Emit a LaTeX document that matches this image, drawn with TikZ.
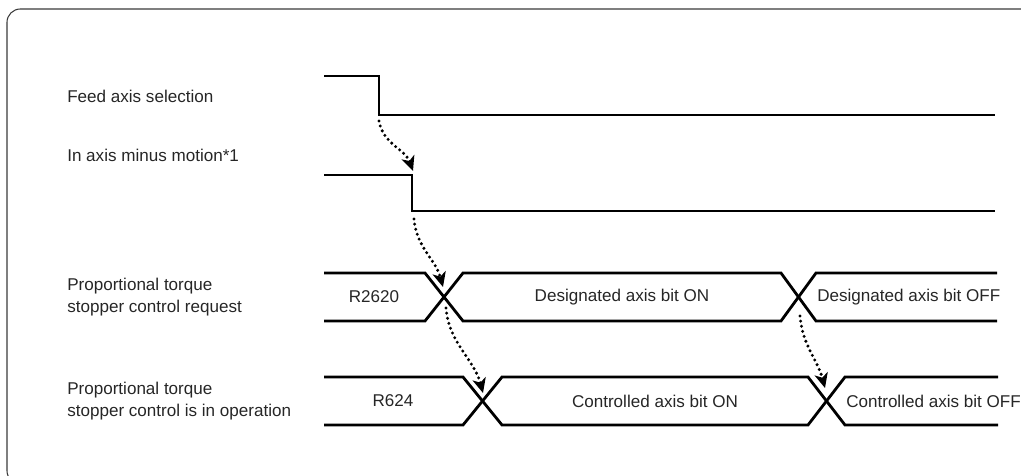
\documentclass[tikz,border=0pt]{standalone}
\usepackage{fontspec}
\setmainfont{Liberation Sans}
\usetikzlibrary{arrows.meta}
\definecolor{Ink}{HTML}{262626}
\definecolor{Edge}{HTML}{3A3A3A}
\newcommand{\sigfont}{\fontsize{12.8pt}{16.5pt}\selectfont}
\tikzset{>=Stealth,
 every node/.style={font=\sigfont,text=Ink},
 wave/.style={line width=2.1pt,draw=black,line join=miter},
 cause/.style={-{Stealth[length=11pt,width=10pt,inset=3pt]},line width=2.5pt,dash pattern=on 0pt off 3.9pt,line cap=round},
 sig/.style={anchor=base west,align=left,inner sep=0pt},
 busl/.style={inner sep=0pt},
 frame/.style={draw=Edge,line width=.8pt,rounded corners=10pt},
 }

\begin{document}
\begin{tikzpicture}[x=.75pt,y=-.75pt]
 \useasboundingbox(0,0)rectangle(1021,475);
 \begin{scope}
  \clip(0,0)rectangle(1021,475);
  \draw[frame](7,9)rectangle(1060,484);
 \end{scope}
 \node[sig](n1)at(67,102){Feed axis selection};
 \node[sig](n2)at(67,161){In axis minus motion*1};
 \node[sig,anchor=west](n3)at(67,297){Proportional torque\\stopper control request};
 \node[sig,anchor=west](n4)at(67,401){Proportional torque\\stopper control is in operation};
 \draw[wave](324,76)-|(379,115)--(995,115);
 \draw[wave](324,175)-|(412,211)--(995,211);
 \draw[wave](324,273)--(425,273)--(463,321)--(781,321)--(816,273)--(997,273);
 \draw[wave](324,321)--(425,321)--(463,273)--(781,273)--(816,321)--(997,321);
 \draw[wave](324,377)--(463,377)--(502,425)--(808,425)--(845,377)--(998,377);
 \draw[wave](324,425)--(463,425)--(502,377)--(808,377)--(845,425)--(998,425);
 \node(v3a)at(374,297){R2620};
 \node(v3b)at(622,297){Designated axis bit ON};
 \node[busl,anchor=west](v3c)at(817,297){Designated axis bit OFF};
 \node(v4a)at(393,401){R624};
 \node(v4b)at(655,401){Controlled axis bit ON};
 \node[busl,anchor=west](v4c)at(846,401){Controlled axis bit OFF};
 \coordinate(c1s)at(379,121);\coordinate(c1e)at(413,171);
 \coordinate(c2s)at(414,219);\coordinate(c2e)at(443,287);
 \coordinate(c3s)at(446,308);\coordinate(c3e)at(483,393);
 \coordinate(c4s)at(800,316);\coordinate(c4e)at(825,388);
 \draw[cause](c1s)to[out=-80,in=110](c1e);
 \draw[cause](c2s)to[out=-85,in=105](c2e);
 \draw[cause](c3s)to[out=-85,in=105](c3e);
 \draw[cause](c4s)to[out=-85,in=105](c4e);
\end{tikzpicture}
\end{document}
